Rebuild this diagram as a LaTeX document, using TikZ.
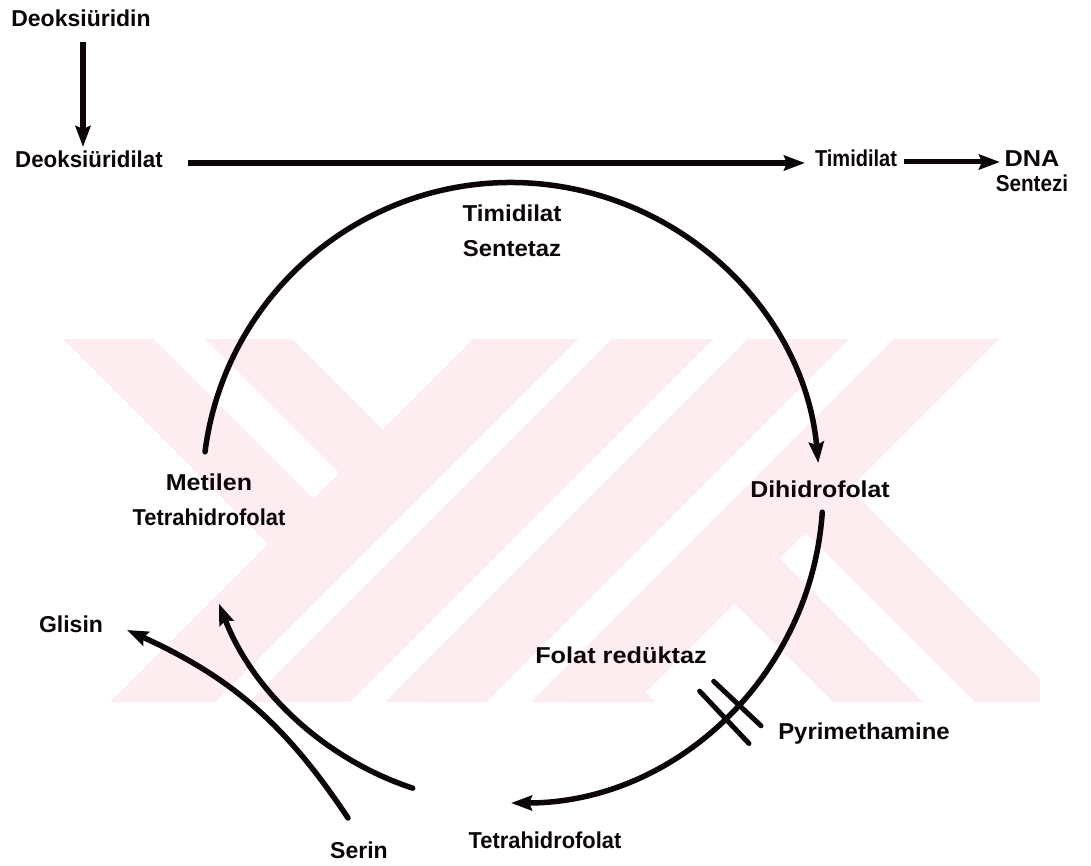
\documentclass[tikz,border=0pt]{standalone}
\usepackage{fontspec}
\usepackage{graphicx}
\setmainfont{Liberation Sans}
\usetikzlibrary{arrows.meta}
\definecolor{wm}{RGB}{253,237,241}
\definecolor{ink}{RGB}{12,6,8}
\newcommand{\sxw}[2]{\scalebox{#1}[1]{#2}}
\begin{document}
\begin{tikzpicture}[x=1pt,y=-1pt,
  lbl/.style={font=\fontsize{23}{35}\selectfont\bfseries, inner sep=0pt, align=center, text=ink},
  tip/.style={-{Stealth[length=21pt,width=15pt,inset=3pt]}},
  arr/.style={draw=ink, line width=6pt, tip},
  arcline/.style={draw=ink, line width=5.5pt},
  barline/.style={draw=ink, line width=5pt, line cap=round}]
\useasboundingbox (0,0) rectangle (1091,866);
\fill[white] (0,0) rectangle (1091,866);
% watermark
\begin{scope}
  \clip (0,339) rectangle (1040,702);
  \foreach \a/\b in {-276/-186,-134/-47,131/221,273/361}
    \fill[wm] (\a+339,339) -- (\b+339,339) -- (\b+702,702) -- (\a+702,702) -- cycle;
  \foreach \a/\b in {917/951,1052/1087,1188/1233}
    \fill[white] (\a-339,339) -- (\b-339,339) -- (\b-702,702) -- (\a-702,702) -- cycle;
  \foreach \a/\b in {812/917,951/1052,1087/1188,1233/1338}
    \fill[wm] (\a-339,339) -- (\b-339,339) -- (\b-702,702) -- (\a-702,702) -- cycle;
\end{scope}
% labels (multi-line nodes: base = baseline of last line)
\node[lbl, anchor=base] (din) at (81,27) {Deoksiüridin};
\node[lbl, anchor=base] (dilat) at (89,168) {\sxw{0.97}{Deoksiüridilat}};
\node[lbl, anchor=base] (tim) at (856,167) {\sxw{0.87}{Timidilat}};
\node[lbl, anchor=base, font=\fontsize{23}{25.5}\selectfont\bfseries] (dna) at (1032,192) {\sxw{1.1}{DNA}\\\sxw{0.9}{Sentezi}};
\node[lbl, anchor=base] (ts) at (512,257) {\sxw{1.05}{Timidilat}\\\sxw{1.04}{Sentetaz}};
\node[lbl, anchor=base] (mthf) at (209,525) {\sxw{1.09}{Metilen}\\\sxw{0.95}{Tetrahidrofolat}};
\node[lbl, anchor=base] (dhf) at (820,497) {\sxw{1.08}{Dihidrofolat}};
\node[lbl, anchor=base] (gly) at (71,632) {Glisin};
\node[lbl, anchor=base] (fr) at (621,663) {\sxw{1.1}{Folat redüktaz}};
\node[lbl, anchor=base] (pyr) at (864,739) {\sxw{1.04}{Pyrimethamine}};
\node[lbl, anchor=base] (thf) at (545,848) {\sxw{0.95}{Tetrahidrofolat}};
\node[lbl, anchor=base] (ser) at (359,858) {Serin};
% straight arrows
\coordinate (v1) at (83,42);   \coordinate (v2) at (83,147);
\coordinate (h1) at (188,163); \coordinate (h2) at (805,163);
\coordinate (s1) at (904,162); \coordinate (s2) at (1000,162);
\draw[arr] (v1) -- (v2);
\draw[arr] (h1) -- (h2);
\draw[arr, line width=5pt] (s1) -- (s2);
% folate cycle
\coordinate (O) at (511,491);
\path (O) ++(187.3:308.5) coordinate (c1s);
\path (O) ++(3.9:312) coordinate (c2s);
\path (O) ++(108.3:313) coordinate (c3s);
\draw[arcline, line cap=round, tip] (c1s) arc[start angle=187.3, end angle=354.8, radius=308.5];
\draw[arcline, line cap=round, tip] (c2s) arc[start angle=3.9, end angle=90, radius=312];
\draw[arcline, line cap=round, tip] (c3s) arc[start angle=108.3, end angle=158.9, radius=313];
% serin -> glisin
\coordinate (g1) at (348,818); \coordinate (g2) at (127,630);
\draw[arr, line width=5.5pt, line cap=round] (g1) to[bend right=16] (g2);
% pyrimethamine block
\path (O) ++(46.7:275) coordinate (b1a);
\path (O) ++(46.7:347) coordinate (b1b);
\path (O) ++(43.2:278) coordinate (b2a);
\path (O) ++(43.2:343) coordinate (b2b);
\draw[barline] (b1a) -- (b1b);
\draw[barline] (b2a) -- (b2b);
\end{tikzpicture}
\end{document}
